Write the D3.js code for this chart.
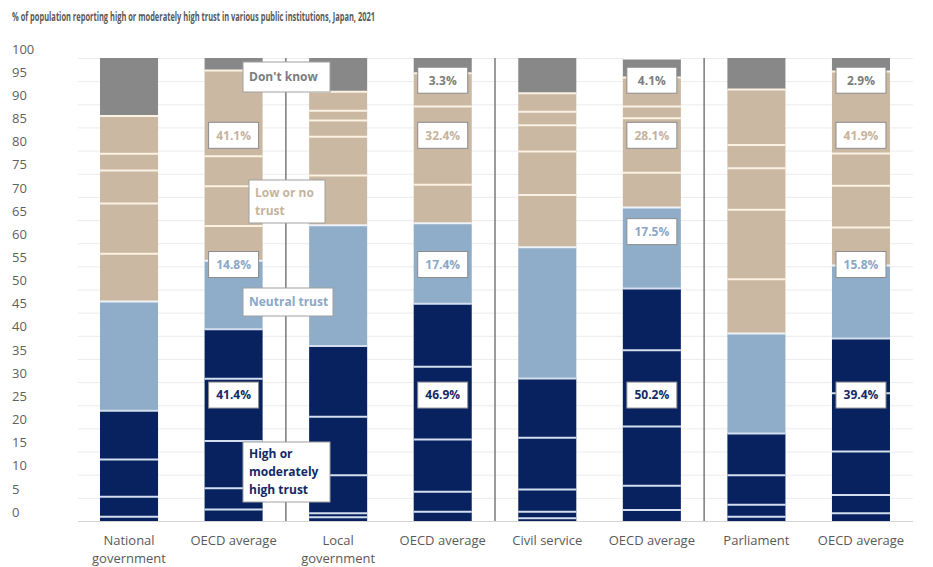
<!DOCTYPE html>
<html>
<head>
<meta charset="utf-8">
<script src="https://cdn.jsdelivr.net/npm/d3@7"></script>
<style>
  body { margin: 0; background: #fff; }
  svg { font-family: "Open Sans", "Noto Sans", sans-serif; }
</style>
</head>
<body>
<div class="trust-chart"></div>
<script>
// categories, left to right
const categories = ["National government", "OECD average", "Local government", "OECD average",
                    "Civil service", "OECD average", "Parliament", "OECD average"];

// high or moderately high trust, sub-segments bottom-up (scores 10 .. 6)
const highParts = [
    [0.9, 4.35, 8.05, 10.5],
    [2.5, 4.6, 10.2, 13.4, 10.7],
    [0.8, 0.9, 8.2, 12.6, 15.3],
    [2.0, 4.3, 11.3, 15.7, 13.6],
    [0.6, 1.4, 4.8, 11.2, 12.8],
    [2.4, 5.2, 12.8, 16.5, 13.3],
    [0.9, 2.6, 6.4, 9.0],
    [1.7, 3.9, 9.4, 12.6, 11.8]
];
// neutral trust
const neutral = [23.6, 14.8, 26.1, 17.4, 28.3, 17.5, 21.6, 15.8];
// low or no trust, sub-segments bottom-up (scores 4 .. 0)
const lowParts = [
    [10.3, 10.9, 7.1, 3.6, 8.2],
    [7.5, 8.6, 6.5, 18.5],
    [10.7, 8.4, 3.5, 2.1, 4.1],
    [8.3, 16.9, 7.2],
    [11.3, 9.4, 5.7, 2.9, 4.0],
    [7.5, 11.8, 2.5, 6.3],
    [11.7, 15.0, 9.0, 5.0, 12.0],
    [8.2, 9.0, 7.0, 17.7]
];
// don't know
const dontKnow = [12.5, 2.7, 7.3, 3.3, 7.6, 4.1, 6.8, 2.9];

const yTicks = d3.range(0, 101, 5);

const colors = { high: "#082260", neutral: "#8fadc8", low: "#cab8a3", dk: "#888888" };
const sepColors = { high: "#d3dfee", neutral: "#eef3f8", low: "#fbf2e4", dk: "#ffffff" };
const textColors = { high: "#142a66", neutral: "#8aa8c6", low: "#c6b39d", dk: "#7d7d7d" };

const width = 933;
const height = 567;

const svg = d3.select('.trust-chart')
    .append('svg')
    .attr('width', width)
    .attr('height', height)

const y = d3.scaleLinear().domain([0, 100]).range([521, 58]);
const x = d3.scaleBand()
    .domain(d3.range(categories.length))
    .range([77, 913])
    .paddingInner(0.445)
    .paddingOuter(0.22);

// title
svg.append("text")
    .attr("x", 12)
    .attr("y", 21)
    .attr("font-size", 12.5)
    .attr("font-weight", 700)
    .attr("font-family", "'Liberation Sans Narrow', 'Open Sans', sans-serif")
    .attr("fill", "#595959")
    .attr("textLength", 363)
    .attr("lengthAdjust", "spacingAndGlyphs")
    .text("% of population reporting high or moderately high trust in various public institutions, Japan, 2021");

// gridlines + y labels
const yAxis = svg.append("g")
    .attr("transform", "translate(78,0)")
    .call(d3.axisRight(y).tickValues(yTicks).tickSize(835).tickFormat(d3.format("d")));
yAxis.select(".domain").remove();
yAxis.selectAll("line").attr("stroke", d => d === 0 ? "#d4d4d4" : "#ececec");
yAxis.selectAll("text")
    .attr("x", -66)
    .attr("y", -9)
    .attr("text-anchor", "start")
    .attr("font-size", 13)
    .attr("font-family", "'Open Sans', sans-serif")
    .attr("fill", "#606060");

// build segments per bar
let segments = [];
categories.forEach(function(c, i) {
    let parts = [];
    highParts[i].forEach(v => parts.push({ v: v, cat: "high" }));
    parts.push({ v: neutral[i], cat: "neutral" });
    lowParts[i].forEach(v => parts.push({ v: v, cat: "low" }));
    parts.push({ v: dontKnow[i], cat: "dk" });
    let acc = 0;
    parts.forEach(function(p) {
        segments.push({ i: i, cat: p.cat, y0: acc, y1: acc + p.v });
        acc += p.v;
    });
});

svg.selectAll("rect.seg")
    .data(segments)
    .enter()
    .append("rect")
    .attr("class", "seg")
    .attr("x", d => x(d.i))
    .attr("width", x.bandwidth())
    .attr("y", d => y(d.y1))
    .attr("height", d => y(d.y0) - y(d.y1))
    .attr("fill", d => colors[d.cat]);

// separators between sub-segments
svg.selectAll("line.sep")
    .data(segments.filter(d => d.y1 < 99.95))
    .enter()
    .append("line")
    .attr("class", "sep")
    .attr("x1", d => x(d.i))
    .attr("x2", d => x(d.i) + x.bandwidth())
    .attr("y1", d => y(d.y1))
    .attr("y2", d => y(d.y1))
    .attr("stroke", d => sepColors[d.cat])
    .attr("stroke-width", 2);

// vertical dividers between institution pairs
const dividers = [1, 3, 5];
svg.selectAll("line.div")
    .data(dividers)
    .enter()
    .append("line")
    .attr("class", "div")
    .attr("x1", d => (x(d) + x.bandwidth() + x(d + 1)) / 2)
    .attr("x2", d => (x(d) + x.bandwidth() + x(d + 1)) / 2)
    .attr("y1", y(100))
    .attr("y2", y(0))
    .attr("stroke", "#7a7a7a")
    .attr("stroke-width", 1.5);

// x labels
categories.forEach(function(c, i) {
    let words = c === "OECD average" || c === "Civil service" ? [c] : c.split(" ");
    let t = svg.append("text")
        .attr("text-anchor", "middle")
        .attr("font-size", 13)
        .attr("fill", "#5a5a5a");
    words.forEach(function(w, k) {
        t.append("tspan")
            .attr("x", x(i) + x.bandwidth() / 2)
            .attr("y", 545 + k * 18)
            .text(w);
    });
});

// value boxes on the OECD bars
const oecdIdx = [1, 3, 5, 7];
let boxes = [];
oecdIdx.forEach(function(i) {
    let hi = d3.sum(highParts[i]);
    boxes.push({ i: i, cat: "high", v: hi, at: 27.2 });
    boxes.push({ i: i, cat: "neutral", v: neutral[i], at: i === 5 ? 62.5 : 55.4 });
    boxes.push({ i: i, cat: "low", v: d3.sum(lowParts[i]), at: 83.3 });
    if (i !== 1) boxes.push({ i: i, cat: "dk", v: dontKnow[i], at: 95.2 });
});

let boxG = svg.selectAll("g.box")
    .data(boxes)
    .enter()
    .append("g")
    .attr("class", "box")
    .attr("transform", d => "translate(" + (x(d.i) + x.bandwidth() / 2) + "," + y(d.at) + ")");
boxG.append("rect")
    .attr("x", -25)
    .attr("y", -13)
    .attr("width", 50)
    .attr("height", 26)
    .attr("fill", "#fff")
    .attr("stroke", "#8c8c8c")
    .attr("stroke-width", 1);
boxG.append("text")
    .attr("text-anchor", "middle")
    .attr("dy", "0.36em")
    .attr("font-size", 12)
    .attr("font-weight", 700)
    .attr("fill", d => textColors[d.cat])
    .text(d => d.v.toFixed(1) + "%");

// category annotations
const notes = [
    { lines: ["Don't know"], cat: "dk", x: 243, y: 62, w: 87, h: 30 },
    { lines: ["Low or no", "trust"], cat: "low", x: 249, y: 180, w: 76, h: 43 },
    { lines: ["Neutral trust"], cat: "neutral", x: 243, y: 288, w: 90, h: 28 },
    { lines: ["High or", "moderately", "high trust"], cat: "high", x: 243, y: 442, w: 87, h: 60 }
];
notes.forEach(function(n) {
    svg.append("rect")
        .attr("x", n.x).attr("y", n.y)
        .attr("width", n.w).attr("height", n.h)
        .attr("fill", "#fff")
        .attr("stroke", "#a0a0a0")
        .attr("stroke-width", 1);
    let t = svg.append("text")
        .attr("font-size", 12)
        .attr("font-weight", 700)
        .attr("fill", textColors[n.cat]);
    let startY = n.y + n.h / 2 - (n.lines.length - 1) * 9;
    n.lines.forEach(function(l, k) {
        t.append("tspan")
            .attr("x", n.x + 6)
            .attr("y", startY + k * 18)
            .attr("dy", "0.36em")
            .text(l);
    });
});
</script>
</body>
</html>
